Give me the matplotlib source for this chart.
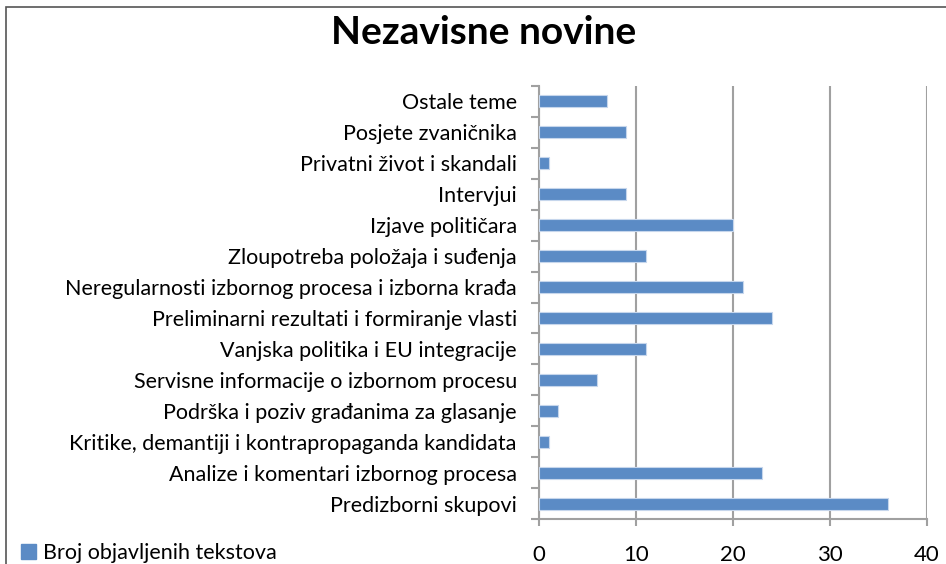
import matplotlib.pyplot as plt
from matplotlib.patches import Patch, Rectangle

categories = ['Predizborni skupovi',
              'Analize i komentari izbornog procesa',
              'Kritike, demantiji i kontrapropaganda kandidata',
              'Podrška i poziv građanima za glasanje',
              'Servisne informacije o izbornom procesu',
              'Vanjska politika i EU integracije',
              'Preliminarni rezultati i formiranje vlasti',
              'Neregularnosti izbornog procesa i izborna krađa',
              'Zloupotreba položaja i suđenja',
              'Izjave političara',
              'Intervjui',
              'Privatni život i skandali',
              'Posjete zvaničnika',
              'Ostale teme']
values = [36, 23, 1, 2, 6, 11, 24, 21, 11, 20, 9, 1, 9, 7]
series_name = 'Broj objavljenih tekstova'
xticks = [0, 10, 20, 30, 40]

plt.rcParams['font.family'] = ['Lato', 'DejaVu Sans']

W, H = 946, 564
fig = plt.figure(figsize=(W / 100, H / 100), dpi=100)
ax = fig.add_axes([539 / W, 1 - 519 / H, (927 - 539) / W, (519 - 86) / H])

grey = '#a0a0a0'
pos = range(len(categories))
ax.barh(pos, values, height=0.39, color='#5b8bc5', edgecolor='#c6d6ec', linewidth=0.8, zorder=3)
ax.set_ylim(-0.5, len(categories) - 0.5)
ax.set_xlim(0, 40)
ax.set_xticks(xticks)
ax.set_xticklabels([str(t) for t in xticks], fontsize=16)
ax.set_yticks([p - 0.5 for p in range(len(categories) + 1)])
ax.set_yticklabels([])
ax.set_yticks(list(pos), minor=True)
ax.set_yticklabels(categories, minor=True, fontsize=15.5)
ax.tick_params(axis='y', which='minor', length=0, pad=16)
ax.tick_params(axis='y', which='major', length=6, color=grey, width=1.5)
ax.tick_params(axis='x', length=5, color=grey, width=1.5, pad=14)
ax.grid(axis='x', color=grey, linewidth=1.5, zorder=0)
for s in ['top', 'right']:
    ax.spines[s].set_visible(False)
for s in ['left', 'bottom']:
    ax.spines[s].set_color(grey)
    ax.spines[s].set_linewidth(1.5)

fig.text(484 / W, 1 - 33 / H, 'Nezavisne novine', ha='center', va='center',
         fontsize=28, fontweight='bold')

fig.legend(handles=[Patch(color='#5b8bc5', label=series_name)],
           loc='center left', bbox_to_anchor=(2 / W, 1 - 553 / H), frameon=False,
           fontsize=15.5, handlelength=0.7, handleheight=0.7, handletextpad=0.3)

fig.patches.append(Rectangle((6 / W, -0.1), 1.2, 1.1 - 7 / H, transform=fig.transFigure,
                             fill=False, edgecolor='#555555', linewidth=1.2))

fig.savefig('out.png', dpi=100)
